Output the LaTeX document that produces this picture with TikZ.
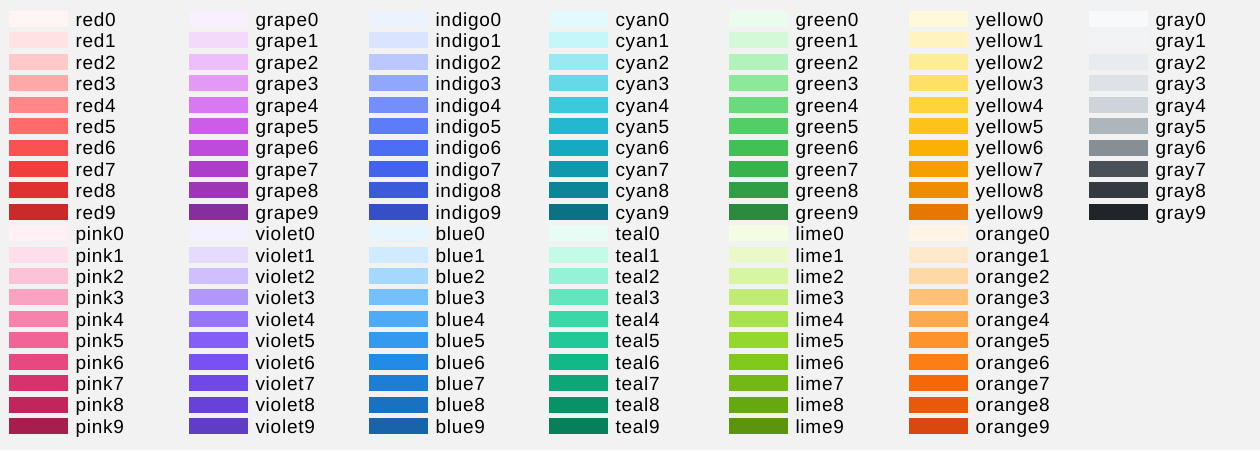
\documentclass[tikz,border=0pt]{standalone}
\usepackage{fontspec}
\newfontfamily\labfont{Liberation Sans}[LetterSpace=4]
\definecolor{bgc}{HTML}{F2F2F2}
\definecolor{ocgray0}{HTML}{F8F9FA}\definecolor{ocgray1}{HTML}{F1F3F5}\definecolor{ocgray2}{HTML}{E9ECEF}\definecolor{ocgray3}{HTML}{DEE2E6}\definecolor{ocgray4}{HTML}{CED4DA}\definecolor{ocgray5}{HTML}{ADB5BD}\definecolor{ocgray6}{HTML}{868E96}\definecolor{ocgray7}{HTML}{495057}\definecolor{ocgray8}{HTML}{343A40}\definecolor{ocgray9}{HTML}{212529}
\definecolor{ocred0}{HTML}{FFF5F5}\definecolor{ocred1}{HTML}{FFE3E3}\definecolor{ocred2}{HTML}{FFC9C9}\definecolor{ocred3}{HTML}{FFA8A8}\definecolor{ocred4}{HTML}{FF8787}\definecolor{ocred5}{HTML}{FF6B6B}\definecolor{ocred6}{HTML}{FA5252}\definecolor{ocred7}{HTML}{F03E3E}\definecolor{ocred8}{HTML}{E03131}\definecolor{ocred9}{HTML}{C92A2A}
\definecolor{ocpink0}{HTML}{FFF0F6}\definecolor{ocpink1}{HTML}{FFDEEB}\definecolor{ocpink2}{HTML}{FCC2D7}\definecolor{ocpink3}{HTML}{FAA2C1}\definecolor{ocpink4}{HTML}{F783AC}\definecolor{ocpink5}{HTML}{F06595}\definecolor{ocpink6}{HTML}{E64980}\definecolor{ocpink7}{HTML}{D6336C}\definecolor{ocpink8}{HTML}{C2255C}\definecolor{ocpink9}{HTML}{A61E4D}
\definecolor{ocgrape0}{HTML}{F8F0FC}\definecolor{ocgrape1}{HTML}{F3D9FA}\definecolor{ocgrape2}{HTML}{EEBEFA}\definecolor{ocgrape3}{HTML}{E599F7}\definecolor{ocgrape4}{HTML}{DA77F2}\definecolor{ocgrape5}{HTML}{CC5DE8}\definecolor{ocgrape6}{HTML}{BE4BDB}\definecolor{ocgrape7}{HTML}{AE3EC9}\definecolor{ocgrape8}{HTML}{9C36B5}\definecolor{ocgrape9}{HTML}{862E9C}
\definecolor{ocviolet0}{HTML}{F3F0FF}\definecolor{ocviolet1}{HTML}{E5DBFF}\definecolor{ocviolet2}{HTML}{D0BFFF}\definecolor{ocviolet3}{HTML}{B197FC}\definecolor{ocviolet4}{HTML}{9775FA}\definecolor{ocviolet5}{HTML}{845EF7}\definecolor{ocviolet6}{HTML}{7950F2}\definecolor{ocviolet7}{HTML}{7048E8}\definecolor{ocviolet8}{HTML}{6741D9}\definecolor{ocviolet9}{HTML}{5F3DC4}
\definecolor{ocindigo0}{HTML}{EDF2FF}\definecolor{ocindigo1}{HTML}{DBE4FF}\definecolor{ocindigo2}{HTML}{BAC8FF}\definecolor{ocindigo3}{HTML}{91A7FF}\definecolor{ocindigo4}{HTML}{748FFC}\definecolor{ocindigo5}{HTML}{5C7CFA}\definecolor{ocindigo6}{HTML}{4C6EF5}\definecolor{ocindigo7}{HTML}{4263EB}\definecolor{ocindigo8}{HTML}{3B5BDB}\definecolor{ocindigo9}{HTML}{364FC7}
\definecolor{ocblue0}{HTML}{E7F5FF}\definecolor{ocblue1}{HTML}{D0EBFF}\definecolor{ocblue2}{HTML}{A5D8FF}\definecolor{ocblue3}{HTML}{74C0FC}\definecolor{ocblue4}{HTML}{4DABF7}\definecolor{ocblue5}{HTML}{339AF0}\definecolor{ocblue6}{HTML}{228BE6}\definecolor{ocblue7}{HTML}{1C7ED6}\definecolor{ocblue8}{HTML}{1971C2}\definecolor{ocblue9}{HTML}{1864AB}
\definecolor{occyan0}{HTML}{E3FAFC}\definecolor{occyan1}{HTML}{C5F6FA}\definecolor{occyan2}{HTML}{99E9F2}\definecolor{occyan3}{HTML}{66D9E8}\definecolor{occyan4}{HTML}{3BC9DB}\definecolor{occyan5}{HTML}{22B8CF}\definecolor{occyan6}{HTML}{15AABF}\definecolor{occyan7}{HTML}{1098AD}\definecolor{occyan8}{HTML}{0C8599}\definecolor{occyan9}{HTML}{0B7285}
\definecolor{octeal0}{HTML}{E6FCF5}\definecolor{octeal1}{HTML}{C3FAE8}\definecolor{octeal2}{HTML}{96F2D7}\definecolor{octeal3}{HTML}{63E6BE}\definecolor{octeal4}{HTML}{38D9A9}\definecolor{octeal5}{HTML}{20C997}\definecolor{octeal6}{HTML}{12B886}\definecolor{octeal7}{HTML}{0CA678}\definecolor{octeal8}{HTML}{099268}\definecolor{octeal9}{HTML}{087F5B}
\definecolor{ocgreen0}{HTML}{EBFBEE}\definecolor{ocgreen1}{HTML}{D3F9D8}\definecolor{ocgreen2}{HTML}{B2F2BB}\definecolor{ocgreen3}{HTML}{8CE99A}\definecolor{ocgreen4}{HTML}{69DB7C}\definecolor{ocgreen5}{HTML}{51CF66}\definecolor{ocgreen6}{HTML}{40C057}\definecolor{ocgreen7}{HTML}{37B24D}\definecolor{ocgreen8}{HTML}{2F9E44}\definecolor{ocgreen9}{HTML}{2B8A3E}
\definecolor{oclime0}{HTML}{F4FCE3}\definecolor{oclime1}{HTML}{E9FAC8}\definecolor{oclime2}{HTML}{D8F5A2}\definecolor{oclime3}{HTML}{C0EB75}\definecolor{oclime4}{HTML}{A9E34B}\definecolor{oclime5}{HTML}{94D82D}\definecolor{oclime6}{HTML}{82C91E}\definecolor{oclime7}{HTML}{74B816}\definecolor{oclime8}{HTML}{66A80F}\definecolor{oclime9}{HTML}{5C940D}
\definecolor{ocyellow0}{HTML}{FFF9DB}\definecolor{ocyellow1}{HTML}{FFF3BF}\definecolor{ocyellow2}{HTML}{FFEC99}\definecolor{ocyellow3}{HTML}{FFE066}\definecolor{ocyellow4}{HTML}{FFD43B}\definecolor{ocyellow5}{HTML}{FCC419}\definecolor{ocyellow6}{HTML}{FAB005}\definecolor{ocyellow7}{HTML}{F59F00}\definecolor{ocyellow8}{HTML}{F08C00}\definecolor{ocyellow9}{HTML}{E67700}
\definecolor{ocorange0}{HTML}{FFF4E6}\definecolor{ocorange1}{HTML}{FFE8CC}\definecolor{ocorange2}{HTML}{FFD8A8}\definecolor{ocorange3}{HTML}{FFC078}\definecolor{ocorange4}{HTML}{FFA94D}\definecolor{ocorange5}{HTML}{FF922B}\definecolor{ocorange6}{HTML}{FD7E14}\definecolor{ocorange7}{HTML}{F76707}\definecolor{ocorange8}{HTML}{E8590C}\definecolor{ocorange9}{HTML}{D9480F}
\tikzset{
  swatch/.style={anchor=north west, inner sep=0pt, outer sep=0pt, minimum width=59pt, minimum height=16pt, draw=none},
  lab/.style={anchor=base west, inner sep=0pt, outer sep=0pt, text=black, font=\labfont\fontsize{19}{19}\selectfont}
}
\begin{document}
\begin{tikzpicture}[x=1pt,y=-1pt]
\fill[bgc] (0,0) rectangle (1260,450);
\foreach \nm/\cl/\off in {red/0/0, pink/0/10, grape/1/0, violet/1/10, indigo/2/0, blue/2/10, cyan/3/0, teal/3/10, green/4/0, lime/4/10, yellow/5/0, orange/5/10, gray/6/0} {
  \foreach \i in {0,...,9} {
    \pgfmathsetmacro\yy{11+(\off+\i)*21.42}
    \pgfmathsetmacro\xx{9+180*\cl}
    \node[swatch, fill=oc\nm\i] (s-\nm\i) at (\xx,\yy) {};
    \node[lab] (l-\nm\i) at (\xx+66.5,\yy+15.4) {\nm\i};
  }
}
\end{tikzpicture}
\end{document}
